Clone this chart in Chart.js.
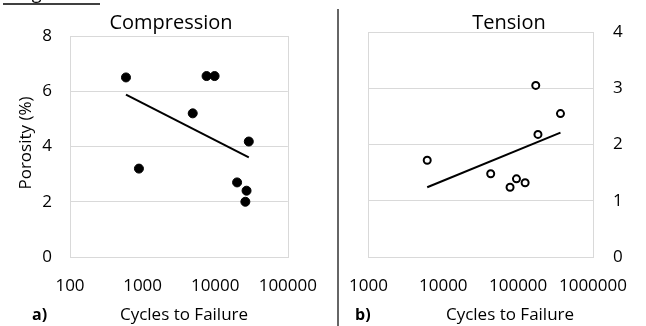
<!DOCTYPE html>
<html>
<head>
<meta charset="utf-8">
<script src="https://cdn.jsdelivr.net/npm/chart.js@4/dist/chart.umd.min.js"></script>
<style>
  html, body { margin: 0; padding: 0; background: #fff; }
  body { width: 646px; height: 326px; position: relative; overflow: hidden; }
  #wl { position: absolute; left: 0; top: 0; width: 336px; height: 326px; }
  #wr { position: absolute; left: 330px; top: 0; width: 316px; height: 326px; }
</style>
</head>
<body>
<div id="wl"><canvas id="cl" width="336" height="326"></canvas></div>
<div id="wr"><canvas id="cr" width="316" height="326"></canvas></div>
<script>
// ---- Data ----
const compCycles = [590, 7600, 9800, 4900, 29000, 890, 20000, 27000, 26000];
const compPorosity = [6.5, 6.55, 6.55, 5.2, 4.18, 3.2, 2.7, 2.4, 2.0];
const compTrendCycles = [590, 29000];
const compTrendPorosity = [5.88, 3.61];

const tensCycles = [172000, 368000, 184000, 6100, 43000, 78000, 95000, 124000];
const tensPorosity = [3.05, 2.55, 2.18, 1.72, 1.48, 1.24, 1.39, 1.32];
const tensTrendCycles = [6100, 368000];
const tensTrendPorosity = [1.24, 2.21];

const compXTicks = [100, 1000, 10000, 100000];
const tensXTicks = [1000, 10000, 100000, 1000000];
const compYTicks = [0, 2, 4, 6, 8];
const tensYTicks = [0, 1, 2, 3, 4];

const leftTitle = 'Compression';
const rightTitle = 'Tension';
const xTitle = 'Cycles to Failure';
const yTitle = 'Porosity (%)';

// ---- Helpers ----
const FONT = '"Open Sans", "Noto Sans", sans-serif';
const GRID = '#d9d9d9';
const TXT = '#000';
const pts = (xs, ys) => xs.map((x, i) => ({ x: x, y: ys[i] }));

const frame = {
  id: 'frame',
  beforeDatasetsDraw(chart) {
    const a = chart.chartArea, c = chart.ctx;
    c.save();
    c.strokeStyle = GRID; c.lineWidth = 1;
    c.strokeRect(Math.round(a.left) + 0.5, Math.round(a.top) + 0.5,
                 Math.round(a.right - a.left), Math.round(a.bottom - a.top));
    c.restore();
  }
};

function xScale(ticks) {
  return {
    type: 'logarithmic',
    min: ticks[0], max: ticks[ticks.length - 1],
    afterBuildTicks: s => { s.ticks = ticks.map(v => ({ value: v })); },
    afterFit: s => { s.height = 69; },
    grid: { display: false, drawTicks: false },
    border: { display: false },
    ticks: { font: { family: FONT, size: 17 }, color: TXT, padding: 19,
              maxRotation: 0, autoSkip: false, callback: v => String(v) }
  };
}
function yScale(ticks, pos, width, pad) {
  return {
    type: 'linear', position: pos,
    min: ticks[0], max: ticks[ticks.length - 1],
    afterBuildTicks: s => { s.ticks = ticks.map(v => ({ value: v })); },
    afterFit: s => { s.width = width; },
    grid: { color: GRID, lineWidth: 1, drawTicks: false },
    border: { display: false },
    ticks: { font: { family: FONT, size: 17 }, color: TXT, padding: pad,
             callback: v => String(v) }
  };
}

// ---- Left chart: Compression ----
new Chart(document.getElementById('cl'), {
  type: 'scatter',
  data: {
    datasets: [
      { data: pts(compCycles, compPorosity), pointRadius: 4.5, pointBackgroundColor: '#000',
        pointBorderColor: '#000', pointBorderWidth: 1, showLine: false },
      { data: pts(compTrendCycles, compTrendPorosity), showLine: true, pointRadius: 0,
        borderColor: '#000', borderWidth: 2 }
    ]
  },
  options: {
    responsive: false, animation: false, devicePixelRatio: 1,
    layout: { padding: { top: 36, right: 36, left: 0, bottom: 0 } },
    plugins: { legend: { display: false }, tooltip: { enabled: false } },
    scales: { x: xScale(compXTicks), y: yScale(compYTicks, 'left', 70, 18) }
  },
  plugins: [frame, {
    id: 'textL',
    afterDraw(chart) {
      const c = chart.ctx;
      c.save();
      c.fillStyle = TXT;
      c.textAlign = 'center'; c.textBaseline = 'alphabetic';
      c.font = '20px ' + FONT;
      c.fillText(leftTitle, 171, 29);
      c.font = '17px ' + FONT;
      c.fillText(xTitle, 184, 320);
      c.textAlign = 'left';
      c.font = 'bold 16px ' + FONT;
      c.fillText('a)', 32, 320);
      // y title
      c.save();
      c.translate(31, 143);
      c.rotate(-Math.PI / 2);
      c.textAlign = 'center';
      c.font = '17px ' + FONT;
      c.fillText(yTitle, 0, 0);
      c.restore();
      // cut-off header above the figure
      c.font = '18px ' + FONT;
      c.textAlign = 'left';
      c.fillText('Figure 3', 18, -1);
      c.strokeStyle = '#000'; c.lineWidth = 1.5;
      c.beginPath(); c.moveTo(3, 4); c.lineTo(100, 4); c.stroke();
      c.restore();
    }
  }]
});

// ---- Right chart: Tension ----
new Chart(document.getElementById('cr'), {
  type: 'scatter',
  data: {
    datasets: [
      { data: pts(tensCycles, tensPorosity), pointRadius: 3.5, pointBackgroundColor: '#fff',
        pointBorderColor: '#000', pointBorderWidth: 2, showLine: false },
      { data: pts(tensTrendCycles, tensTrendPorosity), showLine: true, pointRadius: 0,
        borderColor: '#000', borderWidth: 2 }
    ]
  },
  options: {
    responsive: false, animation: false, devicePixelRatio: 1,
    layout: { padding: { top: 32, right: 0, left: 35, bottom: 0 } },
    plugins: { legend: { display: false }, tooltip: { enabled: false } },
    scales: { x: xScale(tensXTicks), y: yScale(tensYTicks, 'right', 48, 20) }
  },
  plugins: [frame, {
    id: 'textR',
    afterDraw(chart) {
      const c = chart.ctx;
      c.save();
      c.fillStyle = TXT;
      c.textAlign = 'center'; c.textBaseline = 'alphabetic';
      c.font = '20px ' + FONT;
      c.fillText(rightTitle, 179, 29);
      c.font = '17px ' + FONT;
      c.fillText(xTitle, 180, 320);
      c.textAlign = 'left';
      c.font = 'bold 16px ' + FONT;
      c.fillText('b)', 25, 320);
      // separator line between the panels
      c.strokeStyle = '#333'; c.lineWidth = 1.5;
      c.beginPath(); c.moveTo(8, 9); c.lineTo(8, 326); c.stroke();
      c.restore();
    }
  }]
});
</script>
</body>
</html>
